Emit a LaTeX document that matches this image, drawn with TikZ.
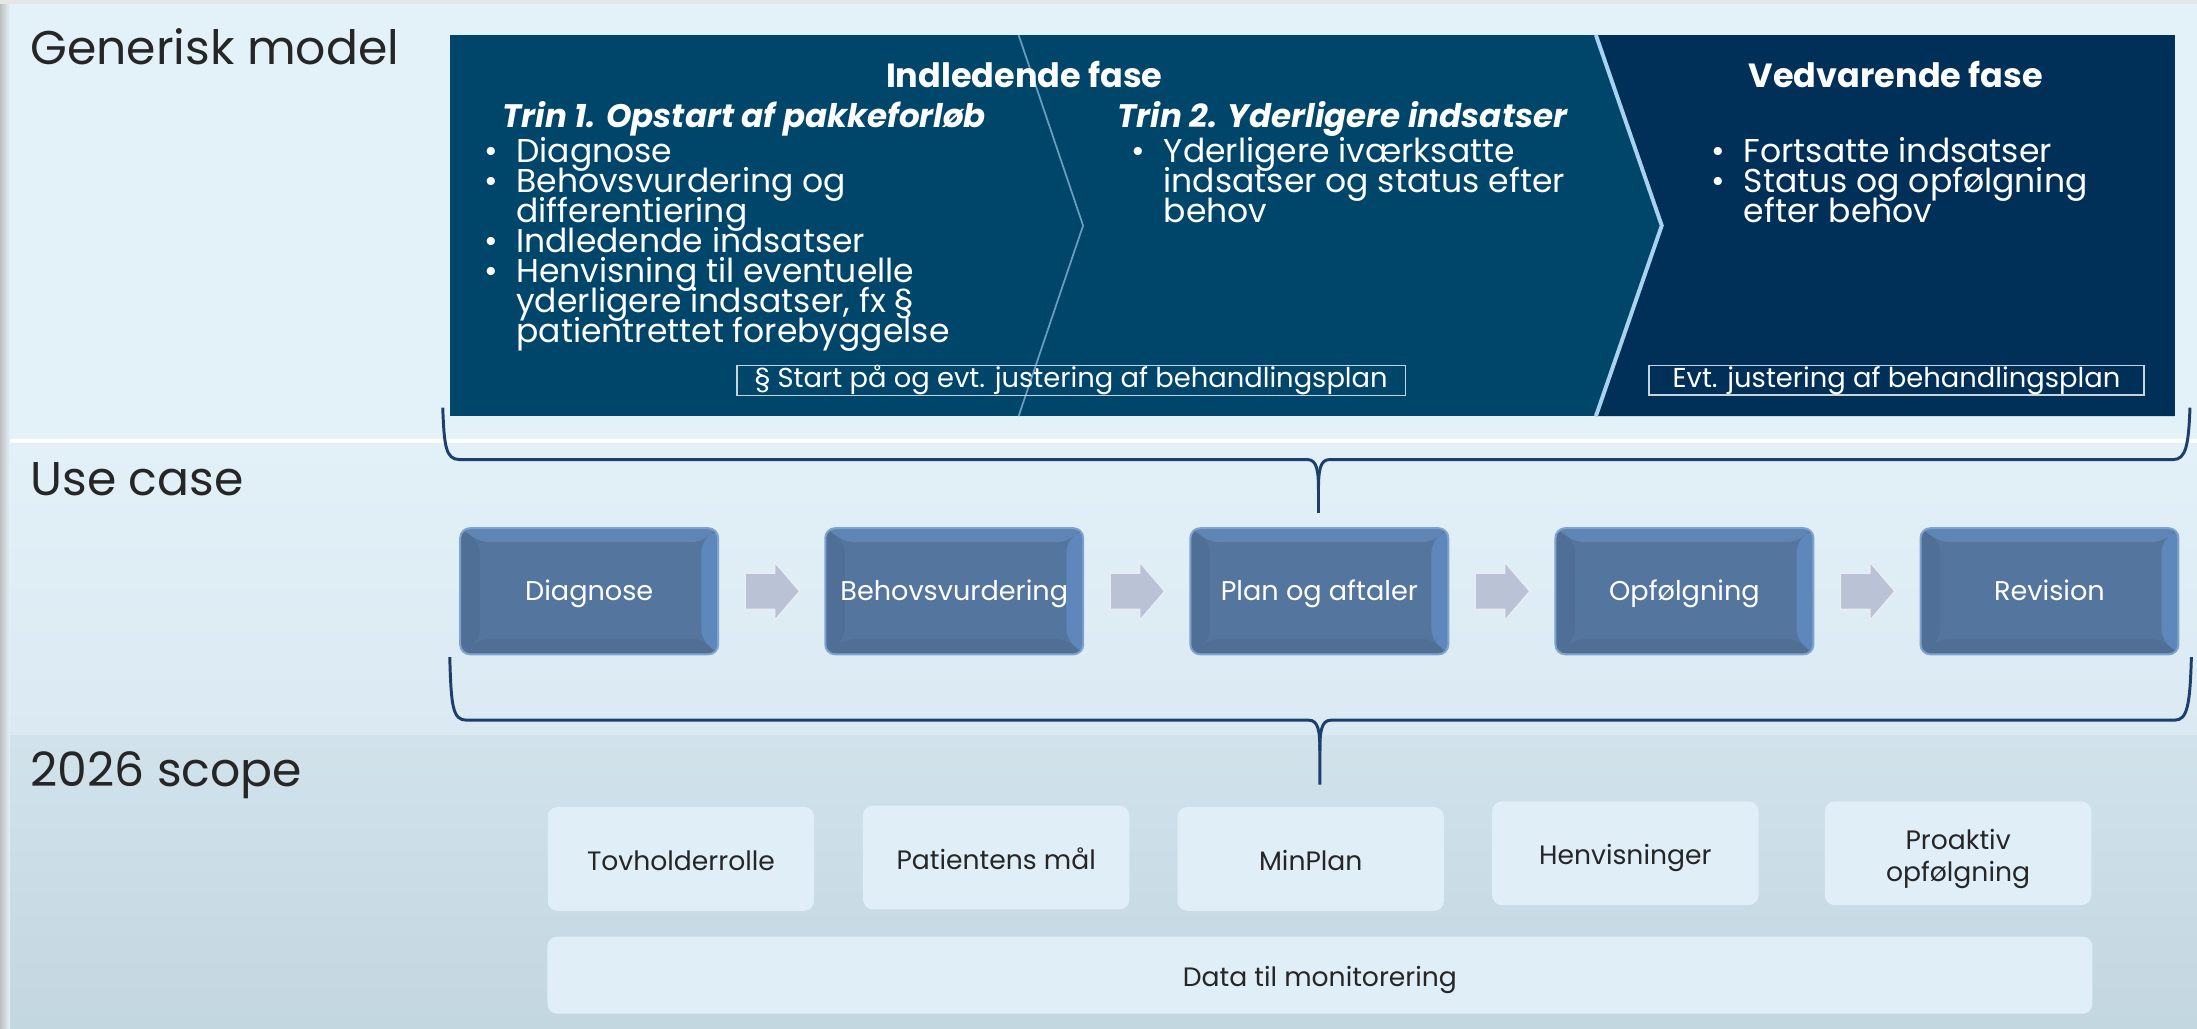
\documentclass[tikz,border=0pt]{standalone}
\usepackage{fontspec}
\setmainfont{Poppins}
\usetikzlibrary{positioning,calc}

\definecolor{bandone}{HTML}{E3F1F9}
\definecolor{bandtwo}{HTML}{E2F0F8}
\definecolor{bandtwob}{HTML}{DBEAF2}
\definecolor{bandthree}{HTML}{D1E2EB}
\definecolor{bandthreeb}{HTML}{C3D7E1}
\definecolor{labelgray}{HTML}{262626}
\definecolor{phaseblue}{HTML}{00466A}
\definecolor{phasedark}{HTML}{003057}
\definecolor{chevthin}{HTML}{6E9CC0}
\definecolor{chevlight}{HTML}{A9D2F0}
\definecolor{planline}{HTML}{C8D3DC}
\definecolor{bracenavy}{HTML}{1D3F6E}
\definecolor{ucface}{HTML}{54769E}
\definecolor{uctop}{HTML}{5E85B4}
\definecolor{ucleft}{HTML}{506F97}
\definecolor{ucright}{HTML}{5E88BB}
\definecolor{ucbottom}{HTML}{516F94}
\definecolor{ucedge}{HTML}{7FA3CF}
\definecolor{arrowgray}{HTML}{BAC2D5}
\definecolor{scopefill}{HTML}{DFEEF7}

\newcommand{\bul}{\makebox[6.5pt][l]{\textbullet}}
\newcommand{\ind}{\hspace*{6.5pt}}
\newcommand{\tightlines}{\lineskiplimit-5pt\relax}

\begin{document}
\begin{tikzpicture}[x=0.01cm,y=-0.01cm,
    seclabel/.style={anchor=west,inner sep=0,text=labelgray,font=\fontsize{9.6}{11}\selectfont},
    phasehead/.style={inner sep=0,text=white,font=\fontsize{6.8}{7}\selectfont\bfseries},
    trinhead/.style={anchor=west,inner sep=0,text=white,font=\fontsize{6.6}{7}\selectfont\bfseries\itshape},
    bodytext/.style={anchor=north west,inner sep=0,align=left,text=white,
        font=\fontsize{6.7}{6.1}\selectfont\tightlines},
    planbox/.style={draw=planline,line width=0.3pt,inner sep=0,minimum height=0.21cm,text=white,font=\fontsize{5.55}{6}\selectfont},
    brace/.style={draw=bracenavy,line width=0.6pt},
    ucbox/.style={rectangle,rounded corners=2pt,minimum width=1.84cm,minimum height=0.9cm,inner sep=0,
        text height=5.2pt,text depth=1.3pt,
        fill=ucface,draw=ucedge,line width=0.4pt,text=white,font=\fontsize{5.5}{6}\selectfont,
        path picture={
            \path (path picture bounding box.north west) coordinate (pnw)
                  (path picture bounding box.north east) coordinate (pne)
                  (path picture bounding box.south west) coordinate (psw)
                  (path picture bounding box.south east) coordinate (pse);
            \path ([shift={(0.14cm,-0.1cm)}]pnw) coordinate (inw)
                  ([shift={(-0.12cm,-0.1cm)}]pne) coordinate (ine)
                  ([shift={(0.14cm,0.11cm)}]psw) coordinate (isw)
                  ([shift={(-0.12cm,0.11cm)}]pse) coordinate (ise);
            \fill[uctop] (pnw) -- (pne) -- (ine) -- (inw) -- cycle;
            \fill[ucleft] (pnw) -- (inw) -- (isw) -- (psw) -- cycle;
            \fill[ucright] (pne) -- (ine) -- (ise) -- (pse) -- cycle;
            \fill[ucbottom] (psw) -- (isw) -- (ise) -- (pse) -- cycle;
        }},
    flowarrow/.style={fill=arrowgray,draw=white!70!arrowgray,line width=0.3pt},
    scopebox/.style={rectangle,rounded corners=2pt,fill=scopefill,minimum width=1.9cm,minimum height=0.74cm,
        inner sep=0,align=center,text=labelgray,font=\fontsize{5.4}{6.5}\selectfont\tightlines},
    oneline/.style={text height=6pt,text depth=1.3pt}]

    % Baggrund
    \useasboundingbox (0,0) rectangle (1568,734);
    \fill[bandone] (0,0) rectangle (1568,313);
    \shade[top color=bandtwo,bottom color=bandtwob] (0,315) rectangle (1568,525);
    \shade[top color=bandthree,bottom color=bandthreeb] (0,525) rectangle (1568,734);
    \fill[white] (6,313) rectangle (1568,316);
    \shade[left color=black!25,right color=bandone] (0,0) rectangle (7,734);
    \fill[black!10] (0,0) rectangle (1568,3);

    % Raekker
    \node[seclabel] (lblmodel) at (21,33) {Generisk model};
    \node[seclabel] (lblcase) at (21,342) {Use case};
    \node[seclabel] (lblscope) at (21,553) {2026 scope};

    % Generisk model
    \fill[phaseblue] (321,25) rectangle (1552,297);
    \fill[phasedark] (1139,25) -- (1186,161) -- (1139,297) -- (1552,297) -- (1552,25) -- cycle;
    \draw[chevthin,line width=0.35pt] (727,25) -- (773,161) -- (727,297);
    \draw[chevlight,line width=0.8pt] (1139,25) -- (1186,161) -- (1139,297);

    \node[phasehead] (indl) at (731,53) {Indledende fase};
    \node[phasehead] (vedv) at (1353,53) {Vedvarende fase};
    \node[trinhead] (trin1) at (358,85) {Trin 1. Opstart af pakkeforløb};
    \node[trinhead] (trin2) at (797,85) {Trin 2. Yderligere indsatser};

    \node[bodytext] (list1) at (345,97) {\bul Diagnose\\
        \bul Behovsvurdering og\\ \ind differentiering\\
        \bul Indledende indsatser\\
        \bul Henvisning til eventuelle\\ \ind yderligere indsatser, fx §\\ \ind patientrettet forebyggelse};
    \node[bodytext] (list2) at (807,97) {\bul Yderligere iværksatte\\
        \ind indsatser og status efter\\ \ind behov};
    \node[bodytext] (list3) at (1221,97) {\bul Fortsatte indsatser\\
        \bul Status og opfølgning\\ \ind efter behov};

    \node[planbox,minimum width=4.77cm] (plan1) at (764.5,271.5) {§ Start på og evt. justering af behandlingsplan};
    \node[planbox,minimum width=3.53cm] (plan2) at (1353.5,271.5) {Evt. justering af behandlingsplan};

    % Klammer
    \draw[brace] (316,291) .. controls (317,318) and (318,328) .. (328,328) -- (933,328)
        .. controls (940,328) and (941,336) .. (941,350) -- (941,366);
    \draw[brace] (941,350) .. controls (941,336) and (942,328) .. (949,328) -- (1551,328)
        .. controls (1560,328) and (1562,318) .. (1563,291);
    \draw[brace] (321,469) .. controls (322,504) and (323,514) .. (333,514) -- (934,514)
        .. controls (941,514) and (942,522) .. (942,536) -- (942,560);
    \draw[brace] (942,536) .. controls (942,522) and (943,514) .. (950,514) -- (1552,514)
        .. controls (1561,514) and (1563,504) .. (1564,469);

    % Use case
    \node[ucbox] (uc1) at (420.5,422) {Diagnose};
    \node[ucbox,right=0.75cm of uc1] (uc2) {Behovsvurdering};
    \node[ucbox,right=0.75cm of uc2] (uc3) {Plan og aftaler};
    \node[ucbox,right=0.75cm of uc3] (uc4) {Opfølgning};
    \node[ucbox,right=0.75cm of uc4] (uc5) {Revision};
    \foreach \a/\b in {uc1/uc2,uc2/uc3,uc3/uc4,uc4/uc5}
        \filldraw[flowarrow] ($(\a.east)!0.5!(\b.west)$) ++(-19,-13) -- ++(21,0) -- ++(0,-8)
            -- ++(18,21) -- ++(-18,21) -- ++(0,-8) -- ++(-21,0) -- cycle;

    % 2026 scope
    \node[scopebox,oneline] (tov) at (486,613) {Tovholderrolle};
    \node[scopebox,oneline] (maal) at (711,612) {Patientens mål};
    \node[scopebox,oneline] (minplan) at (935.5,613) {MinPlan};
    \node[scopebox,oneline] (henv) at (1160,609) {Henvisninger};
    \node[scopebox] (proaktiv) at (1397.5,609) {};
    \node[align=center,inner sep=0,text=labelgray,font=\fontsize{5.4}{6.5}\selectfont\tightlines]
        (proaktivtxt) at ([yshift=-0.04cm]proaktiv.center) {Proaktiv\\opfølgning};
    \node[scopebox,oneline,minimum width=11.02cm,minimum height=0.55cm] (data) at (942,696) {Data til monitorering};
\end{tikzpicture}
\end{document}
